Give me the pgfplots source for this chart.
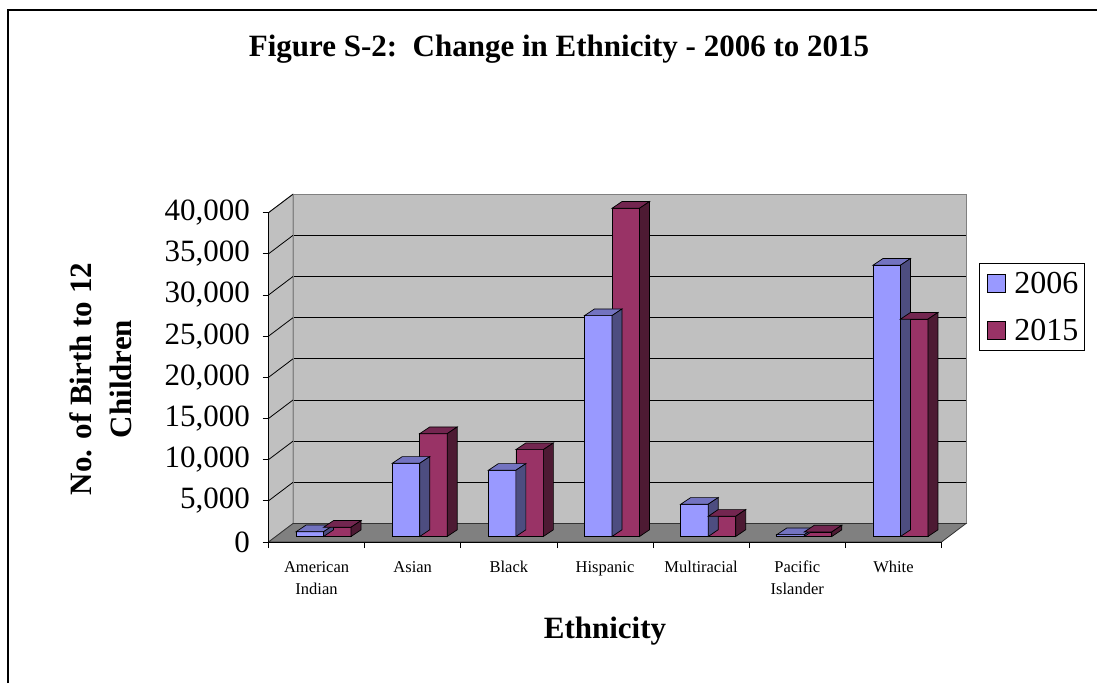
\documentclass[border=0pt]{standalone}
\usepackage{pgfplots}
\pgfplotsset{compat=1.18}
\usepackage{pgfplotstable}
\usepackage{fontspec}
\setmainfont{Liberation Serif}

\definecolor{wall}{HTML}{C0C0C0}
\definecolor{floorgray}{HTML}{808080}
\definecolor{frontA}{HTML}{9999FF}
\definecolor{topA}{HTML}{7373C0}
\definecolor{sideA}{HTML}{4D4D80}
\definecolor{frontB}{HTML}{993366}
\definecolor{topB}{HTML}{732650}
\definecolor{sideB}{HTML}{4D1A33}

% children aged birth to 12, by ethnicity
\pgfplotstableread{
x  y2006  y2015
0  580    1120
1  8890   12490
2  8040   10550
3  26830  39870
4  3910   2450
5  220    550
6  32950  26400
}\ethnicity

\newcommand\twolines[2]{\begin{tabular}[t]{@{}c@{}}#1\\#2\end{tabular}}

\pgfplotsset{
  % top and side faces of a 3-D bar, drawn at the top of each bar
  % #1 x shift of the bar's right edge, #2 top colour, #3 side colour
  box faces/.style n args={3}{
    scatter, only marks, mark=*, mark size=0pt, forget plot,
    visualization depends on={rawy \as \h},
    scatter/@pre marker code/.code={%
      \pgfscope\pgftransformxshift{#1}%
      \filldraw[fill=#2, draw=black, line width=0.7pt]
        (-27.5pt,0pt) -- (0pt,0pt) -- (10pt,6.7pt) -- (-17.5pt,6.7pt) -- cycle;
      \filldraw[fill=#3, draw=black, line width=0.7pt]
        (0pt,0pt) -- (axis direction cs:0,-\h)
        -- ([shift={(10pt,6.7pt)}]axis direction cs:0,-\h) -- (10pt,6.7pt) -- cycle;
    },
    scatter/@post marker code/.code={\endpgfscope},
  },
  plane/.style={
    scale only axis, anchor=south west, width=673pt, height=329.3pt,
    xmin=-0.5, xmax=6.5, ymin=0, ymax=40000, scaled y ticks=false,
  },
  swatch/.style={legend image code/.code={%
    \filldraw[fill=#1, draw=black, line width=0.7pt] (4pt,-9pt) rectangle (22pt,9pt);
    \path[draw=none, fill=none] (0pt,0pt) rectangle (29pt,1pt);}},
}

\begin{document}
\begin{tikzpicture}[x=1pt,y=1pt]
\useasboundingbox (0,0) rectangle (1097,683);
\draw[line width=1.6pt] (8,0) -- (8,673) -- (1097,673);

\node[anchor=base, font=\bfseries\fontsize{31}{31}\selectfont]
  at (559,626) {Figure S-2:\ \ Change in Ethnicity - 2006 to 2015};

% back wall with gridlines
\begin{axis}[plane, at={(293pt,159.5pt)},
  xtick=\empty, ytick={5000,10000,15000,20000,25000,30000,35000},
  yticklabel style={text opacity=0}, major tick length=0pt,
  ymajorgrids, grid style={black, line width=0.8pt},
  axis line style={draw=floorgray, line width=0.8pt},
  axis background/.style={fill=wall}]
\end{axis}

% side wall and floor
\filldraw[fill=wall, draw=floorgray, line width=0.8pt]
  (268.5,141) -- (293,159.5) -- (293,488.8) -- (268.5,470.3) -- cycle;
\foreach \k in {1,...,8}
  \draw[black, line width=0.8pt] (268.5,141+41.1625*\k) -- (293,159.5+41.1625*\k);
\filldraw[fill=floorgray, draw=black!80, line width=0.8pt]
  (268.5,141) -- (941.5,141) -- (966,159.5) -- (293,159.5) -- cycle;

% bars
\begin{axis}[plane, at={(275.5pt,146.5pt)}, hide axis, clip=false,
  legend style={at={(1.0453,0.8315)}, anchor=north west, draw=black,
    line width=0.7pt, font=\fontsize{32}{32}\selectfont,
    inner xsep=4pt, inner ysep=7pt, row sep=20pt, cells={anchor=west}}]
\addplot[box faces={0pt}{topA}{sideA}] table[x=x, y=y2006]{\ethnicity};
\addplot[ybar, bar width=27.5pt, bar shift=-13.75pt, fill=frontA, draw=black,
  line width=0.7pt, swatch=frontA]
  table[x=x, y=y2006]{\ethnicity};
\addlegendentry{2006}
\addplot[box faces={27.5pt}{topB}{sideB}] table[x=x, y=y2015]{\ethnicity};
\addplot[ybar, bar width=27.5pt, bar shift=13.75pt, fill=frontB, draw=black,
  line width=0.7pt, swatch=frontB]
  table[x=x, y=y2015]{\ethnicity};
\addlegendentry{2015}
\end{axis}

% front axes, ticks and labels
\begin{axis}[plane, at={(268.5pt,141pt)},
  axis x line*=bottom, axis y line*=left,
  axis line style={black, line width=0.8pt, -},
  xtick={-0.5,0.5,1.5,2.5,3.5,4.5,5.5,6.5}, x tick label as interval,
  xticklabels={\twolines{American}{Indian},Asian,Black,Hispanic,Multiracial,
    \twolines{Pacific}{Islander},White},
  ytick={0,5000,10000,15000,20000,25000,30000,35000,40000},
  tick align=outside, major tick length=6pt,
  tick style={black, line width=0.8pt},
  /pgf/number format/assume math mode=true,
  /pgf/number format/1000 sep={,},
  yticklabel style={font=\fontsize{31}{31}\selectfont, xshift=-9pt},
  xticklabel style={font=\fontsize{16.5}{22}\selectfont, anchor=base, yshift=-24pt},
  xlabel={Ethnicity}, ylabel={No. of Birth to 12\\Children},
  xlabel style={font=\bfseries\fontsize{31}{31}\selectfont,
    at={(axis description cs:0.5,-0.27)}, anchor=center},
  ylabel style={font=\bfseries\fontsize{31}{40}\selectfont, align=center,
    at={(axis description cs:-0.25,0.495)}, anchor=center},
]
\end{axis}
\end{tikzpicture}
\end{document}
